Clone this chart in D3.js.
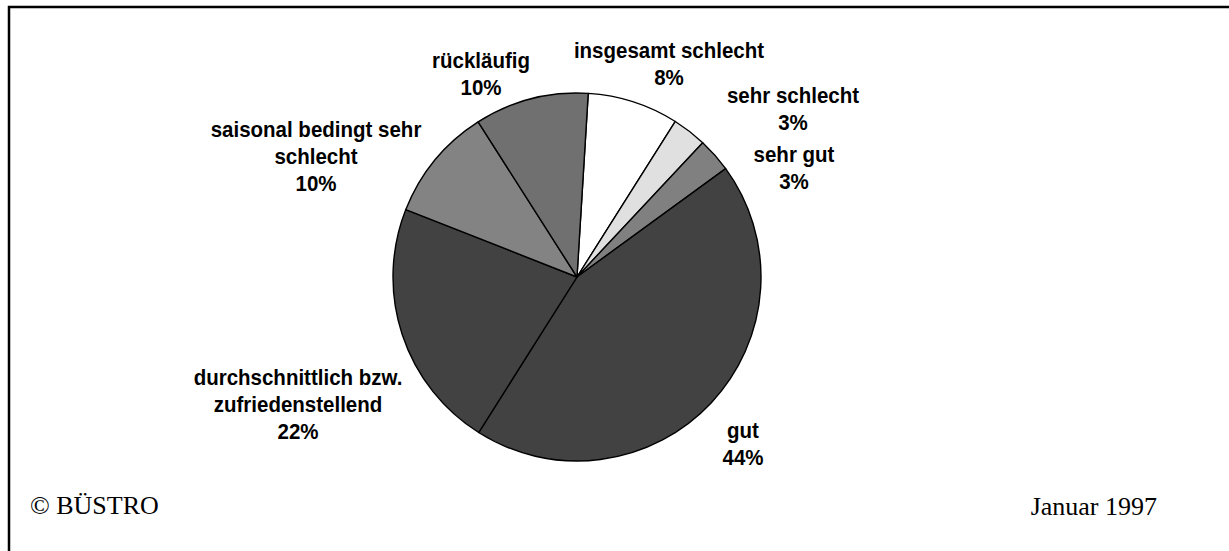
<!DOCTYPE html>
<html>
<head>
<meta charset="utf-8">
<script src="https://cdn.jsdelivr.net/npm/d3@7"></script>
<style>
  html, body { margin: 0; padding: 0; background: #fff; }
  svg { display: block; }
</style>
</head>
<body>
<svg id="chart" width="1229" height="551"></svg>
<script>
// Slice categories (clockwise from 12 o'clock), label lines and shares in percent
const categories = [
  "insgesamt schlecht",
  "sehr schlecht",
  "sehr gut",
  "gut",
  "durchschnittlich bzw. zufriedenstellend",
  "saisonal bedingt sehr schlecht",
  "rückläufig"
];
const labelLines = [
  ["insgesamt schlecht"],
  ["sehr schlecht"],
  ["sehr gut"],
  ["gut"],
  ["durchschnittlich bzw.", "zufriedenstellend"],
  ["saisonal bedingt sehr", "schlecht"],
  ["rückläufig"]
];
const values = [8, 3, 3, 44, 22, 10, 10];
const fills = ["#ffffff", "#e0e0e0", "#808080", "#424242", "#424242", "#838383", "#707070"];

// Label anchor (centre x, baseline of first line) for each slice
const labelPos = [
  [669, 58],
  [793, 103],
  [794, 162],
  [743, 438],
  [298, 385],
  [316, 137],
  [481, 68]
];

const svg = d3.select("#chart");
const W = 1229, H = 551;

// Frame
svg.append("rect")
  .attr("x", 9).attr("y", 7)
  .attr("width", W + 20).attr("height", H + 20)
  .attr("fill", "none")
  .attr("stroke", "#000")
  .attr("stroke-width", 2.5);

const cx = 577, cy = 277, r = 184;
const startDeg = 3.5;

const pie = d3.pie()
  .value(d => d)
  .sort(null)
  .startAngle(startDeg * Math.PI / 180)
  .endAngle((startDeg + 360) * Math.PI / 180);

const arc = d3.arc().innerRadius(0).outerRadius(r);

const arcs = pie(values);

const g = svg.append("g").attr("transform", `translate(${cx},${cy})`);
g.selectAll("path")
  .data(arcs)
  .join("path")
  .attr("d", arc)
  .attr("fill", (d, i) => fills[i])
  .attr("stroke", "#000")
  .attr("stroke-width", 1.4)
  .attr("stroke-linejoin", "round");

// Data labels: category name + percentage (slightly tall glyphs)
const lineH = 27;
const stretch = 1.09;
const labels = svg.append("g")
  .attr("font-family", "'Liberation Sans', Arial, sans-serif")
  .attr("font-weight", "bold")
  .attr("font-size", 20.5)
  .attr("fill", "#000")
  .attr("text-anchor", "middle");

arcs.forEach((a, i) => {
  const [x, y] = labelPos[i];
  const lines = labelLines[i].concat([d3.format("d")(a.data) + "%"]);
  const t = labels.append("text")
    .attr("transform", `translate(${x},${y}) scale(1,${stretch})`);
  lines.forEach((ln, k) => {
    t.append("tspan")
      .attr("x", 0)
      .attr("dy", k === 0 ? 0 : lineH / stretch)
      .text(ln);
  });
});

// Footer
const footer = svg.append("g")
  .attr("font-family", "'Liberation Serif', 'Times New Roman', serif")
  .attr("font-size", 26)
  .attr("fill", "#000");
footer.append("text").attr("x", 30).attr("y", 514).text("© BÜSTRO");
footer.append("text").attr("x", 1157).attr("y", 515)
  .attr("text-anchor", "end").text("Januar 1997");
</script>
</body>
</html>
